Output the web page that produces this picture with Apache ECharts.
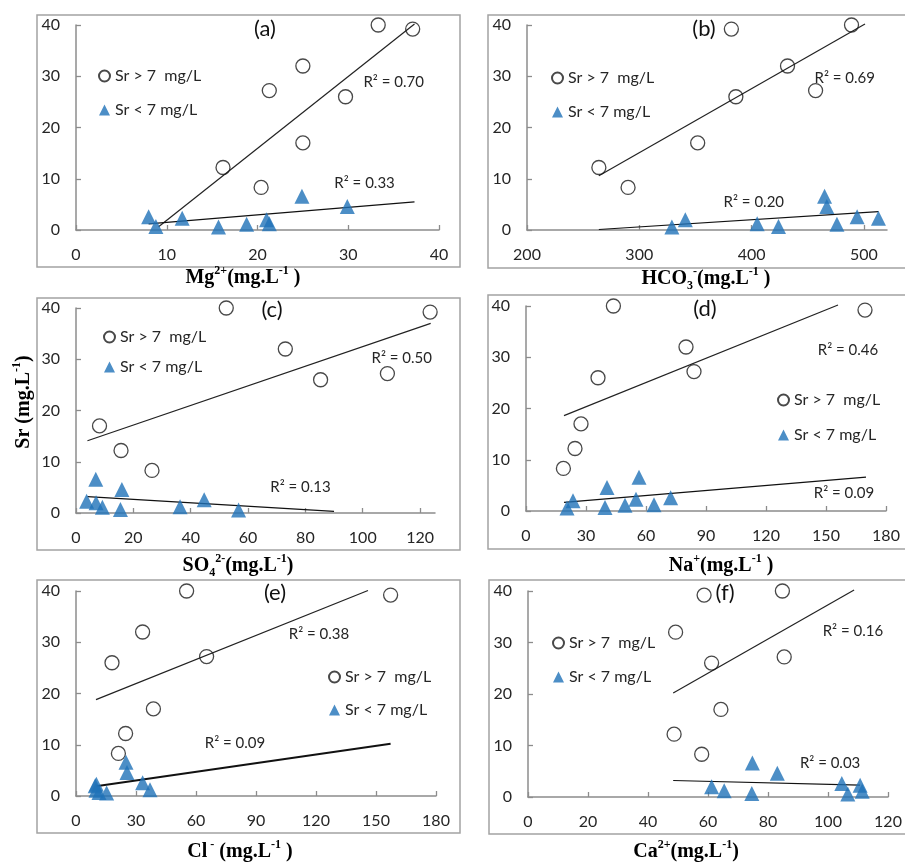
<!DOCTYPE html>
<html>
<head>
<meta charset="utf-8">
<script src="https://cdn.jsdelivr.net/npm/echarts@6/dist/echarts.min.js"></script>
<style>
  html, body { margin: 0; padding: 0; background: #ffffff; }
  #chart { width: 905px; height: 862px; }
</style>
</head>
<body>
<div id="chart"></div>
<script>
// Sr concentrations (mg/L) of the two sample groups, shared by all six panels
const srHigh = [40, 39.2, 32, 27.2, 26, 17, 12.2, 8.3];
const srLow = [6.6, 4.6, 2.6, 2.3, 2.0, 1.2, 1.1, 0.7, 0.6];
const srTicks = [0, 10, 20, 30, 40];

// ion concentrations (mg/L) paired with srHigh / srLow
const mgHigh = [33.3, 37.1, 25.0, 21.3, 29.7, 25.0, 16.2, 20.4];
const mgLow = [24.9, 29.9, 8.0, 11.7, 21.0, 21.3, 18.8, 8.8, 15.7];
const hco3High = [489, 382, 432, 457, 386, 352, 264, 290];
const hco3Low = [465, 467, 494, 513, 341, 405, 476, 424, 329];
const so4High = [52.4, 123.5, 73, 108.6, 85.3, 8.2, 15.7, 26.5];
const so4Low = [6.9, 16.0, 44.7, 3.7, 7.0, 36.3, 9.2, 15.5, 56.7];
const naHigh = [43.7, 169.5, 80, 84, 36, 27.5, 24.5, 18.7];
const naLow = [56.5, 40.5, 72.3, 55.0, 23.5, 64.0, 49.5, 39.5, 20.5];
const clHigh = [55.3, 157.3, 33.3, 65.3, 18.0, 38.7, 24.8, 21.2];
const clLow = [25.0, 25.5, 33.3, 10.2, 9.6, 37.0, 10.0, 11.5, 15.3];
const caHigh = [84.8, 58.7, 49.2, 85.4, 61.2, 64.3, 48.7, 57.9];
const caLow = [74.8, 83.1, 104.6, 110.7, 61.2, 65.4, 111.4, 74.6, 106.6];

// x-axis tick labels of each panel
const mgTicks = [0, 10, 20, 30, 40];
const hco3Ticks = [200, 300, 400, 500];
const so4Ticks = [0, 20, 40, 60, 80, 100, 120];
const naTicks = [0, 30, 60, 90, 120, 150, 180];
const clTicks = [0, 30, 60, 90, 120, 150, 180];
const caTicks = [0, 20, 40, 60, 80, 100, 120];

// linear trend lines, [start, end] for each group
const mgFitHigh = [[9.1, 0.65], [37.3, 40.2]];
const mgFitLow = [[8.0, 1.2], [37.3, 5.5]];
const hco3FitHigh = [[264, 10.6], [501, 40.2]];
const hco3FitLow = [[264, 0.1], [513, 3.6]];
const so4FitHigh = [[4, 14.1], [123.7, 37.0]];
const so4FitLow = [[4, 3.2], [90, 0.3]];
const naFitHigh = [[19, 18.6], [156, 40.2]];
const naFitLow = [[19, 1.7], [170, 6.6]];
const clFitHigh = [[10, 18.8], [146, 40.1]];
const clFitLow = [[10, 1.9], [157.3, 10.2]];
const caFitHigh = [[48.4, 20.2], [108.7, 40.2]];
const caFitLow = [[48.4, 3.2], [110.7, 2.3]];

// coefficients of determination
const r2High = ['0.70', '0.69', '0.50', '0.46', '0.38', '0.16'];
const r2Low = ['0.33', '0.20', '0.13', '0.09', '0.09', '0.03'];

const HIGH = 'Sr > 7  mg/L';
const LOW = 'Sr < 7 mg/L';
const SANS = 'Lato, "Open Sans", sans-serif';
const SERIF = '"Liberation Serif", "DejaVu Serif", serif';
const AXIS_GRAY = '#8c8c8c';
const TEXT = '#262626';
const BLUE = '#1f72b8';

const panels = [
  { tag: '(a)', xHigh: mgHigh, xLow: mgLow, ticks: mgTicks, xEnd: 40, fitHigh: mgFitHigh, fitLow: mgFitLow,
    name: '{t|Mg}{sup|2+}{t|(mg.L}{sup|-1}{t| )}' },
  { tag: '(b)', xHigh: hco3High, xLow: hco3Low, ticks: hco3Ticks, xEnd: 520.6, fitHigh: hco3FitHigh, fitLow: hco3FitLow,
    name: '{t|HCO}{sub|3}{sup|-}{t|(mg.L}{sup|-1}{t| )}' },
  { tag: '(c)', xHigh: so4High, xLow: so4Low, ticks: so4Ticks, xEnd: 125.2, fitHigh: so4FitHigh, fitLow: so4FitLow,
    name: '{t|SO}{sub|4}{sup|2-}{t|(mg.L}{sup|-1}{t|)}' },
  { tag: '(d)', xHigh: naHigh, xLow: naLow, ticks: naTicks, xEnd: 180, fitHigh: naFitHigh, fitLow: naFitLow,
    name: '{t|Na}{sup|+}{t|(mg.L}{sup|-1}{t| )}' },
  { tag: '(e)', xHigh: clHigh, xLow: clLow, ticks: clTicks, xEnd: 180, fitHigh: clFitHigh, fitLow: clFitLow,
    name: '{t|Cl}{sup| -}{t| (mg.L}{sup|-1}{t| )}' },
  { tag: '(f)', xHigh: caHigh, xLow: caLow, ticks: caTicks, xEnd: 120, fitHigh: caFitHigh, fitLow: caFitLow,
    name: '{t|Ca}{sup|2+}{t|(mg.L}{sup|-1}{t|)}' }
];

// page layout of each panel (pixels), plus R² label anchors in data units
const layout = [
  { grid: [76, 25, 363, 205], frame: [37, 15, 423, 252], tag: [265, 29], tagPad: [1, 17], legend: [98, 68, 18],
    r2At: [[35.0, 28.9], [31.8, 9.2]], nameAt: [243, 278], lowWidth: 1.2 },
  { grid: [527, 25, 360, 205], frame: [488, 15, 420, 253], tag: [704, 29], tagPad: [1, 6], legend: [551, 70, 18],
    r2At: [[483, 29.7], [402, 5.5]], nameAt: [706, 279], lowWidth: 1.2 },
  { grid: [76, 308, 359, 205], frame: [37, 298, 423, 252], tag: [272, 310], tagPad: null, legend: [103, 329, 14],
    r2At: [[113.6, 30.3], [78.3, 5.1]], nameAt: [238, 566], lowWidth: 1.2 },
  { grid: [526, 306, 360, 205], frame: [488, 295, 420, 254], tag: [705, 309], tagPad: null, legend: [777, 392, 19],
    r2At: [[161, 31.4], [159, 3.5]], nameAt: [721, 566], lowWidth: 1.2 },
  { grid: [76, 591, 360, 205], frame: [37, 580, 423, 253], tag: [275, 593], tagPad: null, legend: [328, 669, 17],
    r2At: [[121.5, 31.6], [79.5, 10.3]], nameAt: [240, 852], lowWidth: 2 },
  { grid: [528, 591, 360, 206], frame: [489, 580, 420, 254], tag: [725, 593], tagPad: null, legend: [552, 635, 18],
    r2At: [[108.3, 32.2], [100.7, 6.5]], nameAt: [686, 852], lowWidth: 1.2 }
];

const titleRich = {
  t: { fontFamily: SERIF, fontWeight: 'bold', fontSize: 20, color: '#111', lineHeight: 26 },
  sup: { fontFamily: SERIF, fontWeight: 'bold', fontSize: 12, color: '#111', lineHeight: 14, verticalAlign: 'top' },
  sub: { fontFamily: SERIF, fontWeight: 'bold', fontSize: 12, color: '#111', lineHeight: 12, verticalAlign: 'bottom' }
};

const grids = [], xAxes = [], yAxes = [], series = [], legends = [], graphics = [];

function r2Mark(text, at) {
  return {
    symbol: 'circle', symbolSize: 1, silent: true,
    itemStyle: { color: 'rgba(0,0,0,0)' },
    label: { show: true, position: 'inside', formatter: '{b}', color: TEXT, fontSize: 15, fontFamily: SANS },
    data: [{ name: 'R\u00B2 = ' + text, coord: at }]
  };
}

panels.forEach((p, i) => {
  const L = layout[i];
  grids.push({ left: L.grid[0], top: L.grid[1], width: L.grid[2], height: L.grid[3], containLabel: false });

  const axisCommon = {
    type: 'value', gridIndex: i,
    axisLine: { show: true, onZero: false, lineStyle: { color: AXIS_GRAY, width: 1.5 } },
    axisTick: { show: true, inside: true, length: 5, lineStyle: { color: AXIS_GRAY, width: 1.3 } },
    splitLine: { show: false }
  };
  const lastTick = p.ticks[p.ticks.length - 1];
  xAxes.push(Object.assign({}, axisCommon, {
    min: p.ticks[0], max: p.xEnd, interval: p.ticks[1] - p.ticks[0],
    axisLabel: { margin: 17, fontSize: 16, color: TEXT, fontFamily: SANS,
      showMaxLabel: p.xEnd === lastTick,
      formatter: v => (p.ticks.indexOf(v) >= 0 ? String(v) : '') }
  }));
  yAxes.push(Object.assign({}, axisCommon, {
    min: srTicks[0], max: srTicks[srTicks.length - 1], interval: srTicks[1] - srTicks[0],
    axisLabel: { margin: 16, fontSize: 16, color: TEXT, fontFamily: SANS }
  }));

  series.push({
    type: 'scatter', name: HIGH, xAxisIndex: i, yAxisIndex: i, z: 4,
    data: p.xHigh.map((x, k) => [x, srHigh[k]]),
    symbol: 'circle', symbolSize: 14,
    itemStyle: { color: 'rgba(255,255,255,0)', borderColor: '#1a1a1a', borderWidth: 1.3 }
  });
  series.push({
    type: 'scatter', name: LOW, xAxisIndex: i, yAxisIndex: i, z: 4,
    data: p.xLow.map((x, k) => [x, srLow[k]]),
    symbol: 'triangle', symbolSize: 15,
    itemStyle: { color: BLUE }
  });
  series.push({
    type: 'line', name: 'fitHigh' + i, xAxisIndex: i, yAxisIndex: i, z: 3,
    data: p.fitHigh, showSymbol: false, symbol: 'none', clip: false, silent: true,
    lineStyle: { color: '#222', width: 1.2 },
    markPoint: r2Mark(r2High[i], L.r2At[0])
  });
  series.push({
    type: 'line', name: 'fitLow' + i, xAxisIndex: i, yAxisIndex: i, z: 3,
    data: p.fitLow, showSymbol: false, symbol: 'none', clip: false, silent: true,
    lineStyle: { color: '#111', width: L.lowWidth },
    markPoint: r2Mark(r2Low[i], L.r2At[1])
  });

  legends.push({
    data: [HIGH, LOW], orient: 'vertical', selectedMode: false, padding: 0,
    left: L.legend[0], top: L.legend[1], itemGap: L.legend[2],
    itemWidth: 11, itemHeight: 11,
    textStyle: { fontSize: 16, color: TEXT, fontFamily: SANS }
  });

  // panel frame
  graphics.push({
    type: 'rect', z: 0, silent: true,
    shape: { x: L.frame[0], y: L.frame[1], width: L.frame[2], height: L.frame[3] },
    style: { fill: 'none', stroke: '#a3a3a3', lineWidth: 1.5 }
  });
  // panel letter
  const tagStyle = { text: p.tag, fill: '#111', font: '22px ' + SANS, align: 'center', verticalAlign: 'middle' };
  if (L.tagPad) { tagStyle.backgroundColor = '#ffffff'; tagStyle.padding = L.tagPad; }
  graphics.push({ type: 'text', z: 10, silent: true, x: L.tag[0], y: L.tag[1], style: tagStyle });
  // x-axis title
  graphics.push({
    type: 'text', z: 10, silent: true, x: L.nameAt[0], y: L.nameAt[1],
    style: { text: p.name, rich: titleRich, align: 'center', verticalAlign: 'middle' }
  });
});

// shared y-axis title
graphics.push({
  type: 'text', z: 10, silent: true, x: 24, y: 402, rotation: Math.PI / 2,
  style: { text: '{t|Sr (mg.L}{sup|-1}{t|)}', rich: titleRich, align: 'center', verticalAlign: 'middle' }
});

const chart = echarts.init(document.getElementById('chart'), null, { renderer: 'canvas' });
chart.setOption({
  animation: false,
  backgroundColor: '#ffffff',
  grid: grids,
  xAxis: xAxes,
  yAxis: yAxes,
  legend: legends,
  series: series,
  graphic: graphics
});
</script>
</body>
</html>
